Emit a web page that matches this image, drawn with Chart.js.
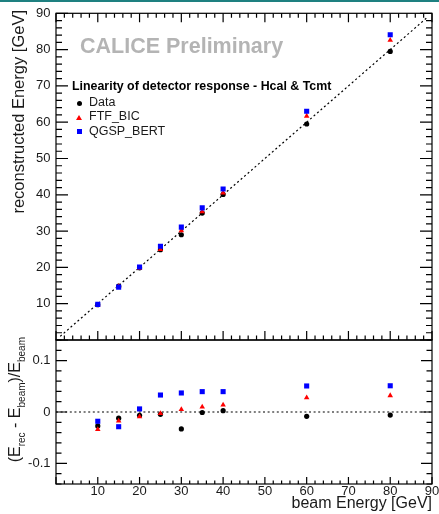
<!DOCTYPE html>
<html>
<head>
<meta charset="utf-8">
<script src="https://cdn.jsdelivr.net/npm/chart.js@4.4.1/dist/chart.umd.min.js"></script>
<style>
  html, body { margin: 0; padding: 0; background: #fff; overflow: hidden; }
  #wrap { position: relative; width: 439px; height: 514px; font-family: "Liberation Sans", Arial, sans-serif; color: #1a1a1a; }
  #wrap canvas { position: absolute; left: 0; top: 0; }
  .topbar { position: absolute; left: 0; top: 0; width: 439px; height: 2px; background: #1e8080; }
  .txt { position: absolute; white-space: nowrap; line-height: 1; }
  .ytitle { position: absolute; width: 260px; text-align: right; white-space: nowrap; line-height: 1;
            transform-origin: 0 0; transform: rotate(-90deg); }
  .ytitle sub { font-size: 10px; vertical-align: -5px; line-height: 1; }
  .mark { position: absolute; }
</style>
</head>
<body>
<div id="wrap">
  <canvas id="top" width="439" height="514"></canvas>
  <canvas id="bottom" width="439" height="514"></canvas>
  <div class="topbar"></div>

  <div class="txt" style="left:80px; top:35.8px; font-size:21.5px; font-weight:bold; color:#b4b4b4;">CALICE Preliminary</div>

  <div class="txt" style="left:72px; top:80px; font-size:12.4px; font-weight:bold; color:#000;">Linearity of detector response - Hcal &amp; Tcmt</div>
  <div class="mark" style="left:76.5px; top:100.5px; width:5px; height:5px; border-radius:50%; background:#000;"></div>
  <div class="txt" style="left:89px; top:96.1px; font-size:12.5px;">Data</div>
  <div class="mark" style="left:76px; top:114.5px; width:0; height:0; border-left:3px solid transparent; border-right:3px solid transparent; border-bottom:5px solid #ff0000;"></div>
  <div class="txt" style="left:89px; top:110.4px; font-size:12.5px;">FTF_BIC</div>
  <div class="mark" style="left:77px; top:129px; width:4.5px; height:4.5px; background:#0000ff;"></div>
  <div class="txt" style="left:89px; top:125.1px; font-size:12.5px;">QGSP_BERT</div>

  <div class="ytitle" style="left:10px; top:270px; font-size:16.5px;">reconstructed Energy [GeV]</div>
  <div class="ytitle" style="left:6.5px; top:597px; font-size:16px;">(E<sub>rec</sub> - E<sub>beam</sub>)/E<sub>beam</sub></div>
  <div class="txt" style="right:7px; top:494.5px; font-size:16px;">beam Energy [GeV]</div>
</div>

<script>
// beam energies and measured/simulated responses
const beamEnergy = [10, 15, 20, 25, 30, 35, 40, 60, 80]
const recoData = [9.73, 14.82, 19.87, 24.89, 29.0, 34.97, 40.1, 59.5, 79.5]
const recoFTF = [9.66, 14.74, 19.82, 24.93, 30.15, 35.35, 40.54, 61.7, 82.6]
const recoQGSP = [9.82, 14.57, 20.12, 25.83, 31.1, 36.4, 41.6, 63.0, 84.1]
const residData = [-0.027, -0.012, -0.0065, -0.0045, -0.033, -0.001, 0.0026, -0.0084, -0.006]
const residFTF = [-0.034, -0.0175, -0.009, -0.0026, 0.005, 0.010, 0.0136, 0.028, 0.032]
const residQGSP = [-0.018, -0.0286, 0.006, 0.033, 0.037, 0.0396, 0.0396, 0.0506, 0.051]

// reference lines
const diagonal = [1, 89]
const zeroLineX = [0, 90]
const zeroLineY = [0, 0]

// tick labels
const energyTicks = [10, 20, 30, 40, 50, 60, 70, 80, 90]
const recoTicks = [10, 20, 30, 40, 50, 60, 70, 80, 90]
const residTicks = [-0.1, 0, 0.1]

Chart.defaults.font.family = '"Liberation Sans", Arial, sans-serif'

const pts = (xs, ys) => xs.map((x, i) => ({ x: x, y: ys[i] }))

function markerSet(label, ys, color, style, radius, order) {
  return {
    label: label,
    data: pts(beamEnergy, ys),
    pointStyle: style,
    pointRadius: radius,
    pointBackgroundColor: color,
    pointBorderColor: color,
    pointBorderWidth: 0,
    showLine: false,
    order: order
  }
}

function refLine(xs, ys) {
  return {
    label: 'ref',
    data: pts(xs, ys),
    showLine: true,
    borderColor: '#000',
    borderWidth: 1.2,
    borderDash: [2, 2.6],
    pointRadius: 0,
    order: 5
  }
}

// ROOT style frame with inward ticks on the chart area
const rootFrame = {
  id: 'rootFrame',
  afterDatasetsDraw(chart, args, o) {
    const { ctx, chartArea: a, scales: { x, y } } = chart
    ctx.save()
    ctx.strokeStyle = '#000'
    ctx.lineWidth = 1.2
    ctx.beginPath()
    const xr = Math.round(o.xMajor / o.xMinor)
    for (let i = Math.ceil(x.min / o.xMinor - 1e-9); i * o.xMinor <= x.max + 1e-9; i++) {
      const px = x.getPixelForValue(i * o.xMinor)
      const len = i % xr === 0 ? o.xLen : o.xLen / 2
      if (o.xBottom) { ctx.moveTo(px, a.bottom); ctx.lineTo(px, a.bottom - len) }
      if (o.xTop) { ctx.moveTo(px, a.top); ctx.lineTo(px, a.top + len) }
    }
    const yr = Math.round(o.yMajor / o.yMinor)
    for (let i = Math.ceil(y.min / o.yMinor - 1e-9); i * o.yMinor <= y.max + 1e-9; i++) {
      const py = y.getPixelForValue(i * o.yMinor)
      const len = i % yr === 0 ? o.yLen : o.yLen / 2
      ctx.moveTo(a.left, py); ctx.lineTo(a.left + len, py)
      ctx.moveTo(a.right, py); ctx.lineTo(a.right - len, py)
    }
    ctx.stroke()
    ctx.strokeRect(a.left, a.top, a.right - a.left, a.bottom - a.top)
    ctx.restore()
  }
}

const tickFont = { size: 13 }
const tickColor = '#1a1a1a'

function yScale(min, max, ticks) {
  return {
    type: 'linear', min: min, max: max,
    afterFit: s => { s.width = 56 },
    afterBuildTicks: s => { s.ticks = ticks.map(v => ({ value: v })) },
    grid: { display: false, drawTicks: false },
    border: { display: false },
    ticks: { padding: 5.5, color: tickColor, font: tickFont, callback: v => String(v) }
  }
}

new Chart(document.getElementById('top'), {
  type: 'scatter',
  data: {
    datasets: [
      refLine(diagonal, diagonal),
      markerSet('Data', recoData, '#000000', 'circle', 2.6, 2),
      markerSet('FTF_BIC', recoFTF, '#ff0000', 'triangle', 3.2, 1),
      markerSet('QGSP_BERT', recoQGSP, '#0000ff', 'rect', 3.6, 0)
    ]
  },
  options: {
    responsive: false,
    animation: false,
    devicePixelRatio: 1,
    layout: { padding: { left: 0, right: 7, top: 10, bottom: 174 } },
    plugins: {
      legend: { display: false },
      tooltip: { enabled: false },
      rootFrame: { xMinor: 2, xMajor: 10, xLen: 9, xTop: true, xBottom: true, yMinor: 2, yMajor: 10, yLen: 12 }
    },
    scales: {
      x: { type: 'linear', min: 0, max: 90, display: false },
      y: yScale(0, 90, recoTicks)
    }
  },
  plugins: [rootFrame]
})

new Chart(document.getElementById('bottom'), {
  type: 'scatter',
  data: {
    datasets: [
      refLine(zeroLineX, zeroLineY),
      markerSet('Data', residData, '#000000', 'circle', 2.6, 2),
      markerSet('FTF_BIC', residFTF, '#ff0000', 'triangle', 3.2, 1),
      markerSet('QGSP_BERT', residQGSP, '#0000ff', 'rect', 3.6, 0)
    ]
  },
  options: {
    responsive: false,
    animation: false,
    devicePixelRatio: 1,
    layout: { padding: { left: 0, right: 7, top: 340, bottom: 0 } },
    plugins: {
      legend: { display: false },
      tooltip: { enabled: false },
      rootFrame: { xMinor: 2, xMajor: 10, xLen: 7, xTop: false, xBottom: true, yMinor: 0.02, yMajor: 0.1, yLen: 11 }
    },
    scales: {
      x: {
        type: 'linear', min: 0, max: 90,
        afterFit: s => { s.height = 30; s.paddingLeft = 0; s.paddingRight = 0 },
        afterBuildTicks: s => { s.ticks = energyTicks.map(v => ({ value: v })) },
        grid: { display: false, drawTicks: false },
        border: { display: false },
        ticks: { padding: 0, maxRotation: 0, autoSkip: false, color: tickColor, font: tickFont, callback: v => String(v) }
      },
      y: yScale(-0.14, 0.14, residTicks)
    }
  },
  plugins: [rootFrame]
})
</script>
</body>
</html>
